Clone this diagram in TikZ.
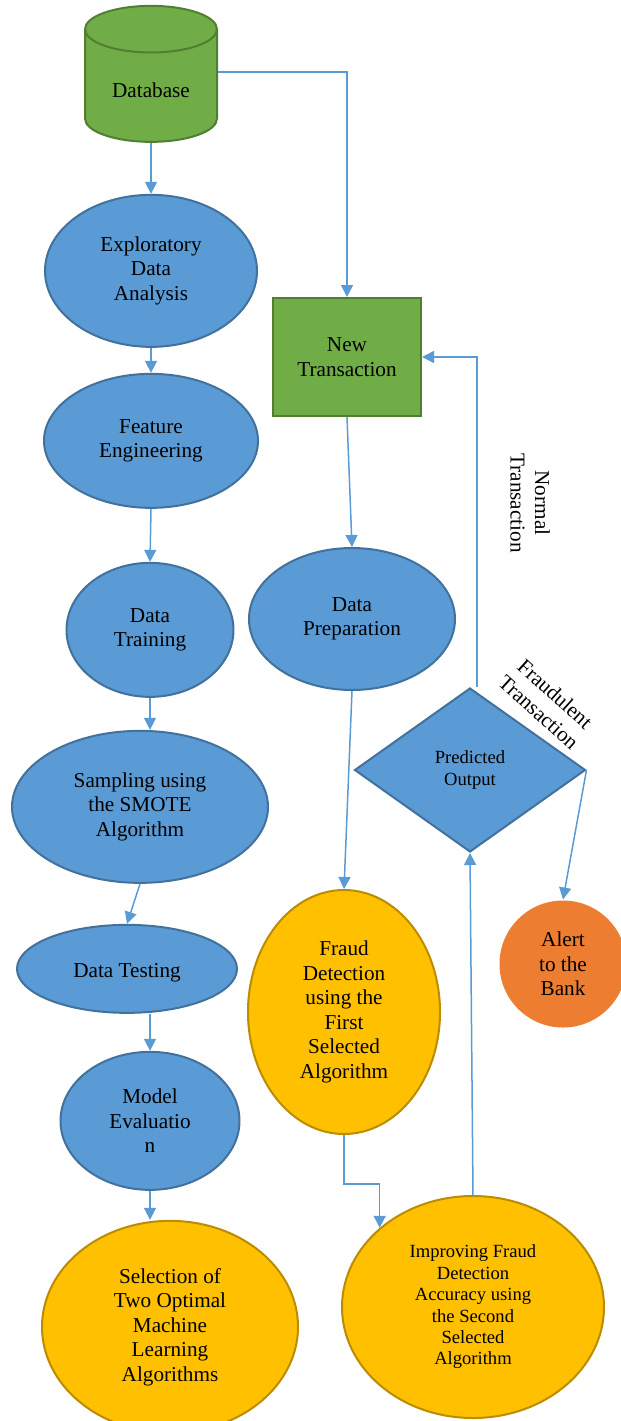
\documentclass[tikz,border=0pt]{standalone}
\usepackage{fontspec}
\setmainfont{Liberation Serif}
\usetikzlibrary{positioning,arrows.meta,calc,shapes.geometric}
\definecolor{stepblue}{HTML}{5B9BD5}
\definecolor{stepblueline}{HTML}{41719C}
\definecolor{datagreen}{HTML}{70AD47}
\definecolor{datagreenline}{HTML}{507E32}
\definecolor{algogold}{HTML}{FFC000}
\definecolor{algogoldline}{HTML}{BC8C00}
\definecolor{alertorange}{HTML}{ED7D31}
\tikzset{
  basenode/.style={
    inner sep=0pt, align=center, line width=1pt, text=black,
    font=\fontsize{10.6}{12.25}\selectfont,
    execute at begin node={\rule{0pt}{11.2pt}}
  },
  stepnode/.style={basenode, ellipse, draw=stepblueline, fill=stepblue},
  algonode/.style={basenode, ellipse, draw=algogoldline, fill=algogold},
  datanode/.style={basenode, draw=datagreenline, fill=datagreen},
  decnode/.style={basenode, diamond, draw=stepblueline, fill=stepblue},
  alertnode/.style={basenode, circle, fill=alertorange},
  smalltext/.style={
    font=\fontsize{9.3}{10.7}\selectfont,
    execute at begin node={\rule{0pt}{9.6pt}}
  },
  arr/.style={
    -{Triangle[length=6pt,width=6pt]}, line width=0.75pt, stepblue
  },
  sidelabel/.style={
    align=center, inner sep=0pt, font=\fontsize{10.6}{12.25}\selectfont
  }
}

\begin{document}
\begin{tikzpicture}[x=0.5pt, y=-0.5pt]
\useasboundingbox (0,0) rectangle (621,1421);

% left column
\node[datanode, cylinder, shape border rotate=90, aspect=0.6,
  execute at begin node={},
  minimum width=66pt, minimum height=68pt] (db) at (151,86) {Database};
\node[stepnode, minimum width=106pt, minimum height=76pt, below=25.5pt of db] (eda) {Exploratory\\Data\\Analysis};
\node[stepnode, minimum width=107pt, minimum height=67pt, below=12.5pt of eda] (feng) {Feature\\Engineering};
\node[stepnode, minimum width=83.5pt, minimum height=67pt, below=26.5pt of feng, xshift=-0.5pt] (dtrain) {Data\\Training};
\node[stepnode, minimum width=128pt, minimum height=76pt, below=16pt of dtrain, xshift=-5pt] (smote) {Sampling using\\the SMOTE\\Algorithm};
\node[stepnode, minimum width=110pt, minimum height=44pt, below=20pt of smote, xshift=-6.5pt] (dtest) {Data Testing};
\node[stepnode, minimum width=89.5pt, minimum height=69pt, below=18.5pt of dtest, xshift=11.5pt] (meval) {Model\\Evaluatio\\n};
\node[algonode, minimum width=128pt, minimum height=106pt, below=14.5pt of meval, xshift=10pt] (select) {Selection of\\Two Optimal\\Machine\\Learning\\Algorithms};

% right column
\node[datanode, minimum width=74pt, minimum height=59pt] (newtx) at (347,357) {New\\Transaction};
\node[stepnode, minimum width=103pt, minimum height=71pt, below=65pt of newtx, xshift=2.5pt] (dprep) {Data\\Preparation};
\node[algonode, minimum width=96pt, minimum height=122pt, below=99pt of dprep, xshift=-4pt] (fraud1) {Fraud\\Detection\\using the\\First\\Selected\\Algorithm};
\node[algonode, smalltext, minimum width=131pt, minimum height=111pt, below=30pt of fraud1, xshift=64.5pt] (improve) {Improving Fraud\\Detection\\Accuracy using\\the Second\\Selected\\Algorithm};
\node[decnode, smalltext, minimum width=115.5pt, minimum height=82pt] (pred) at (470,770) {Predicted\\Output};
\node[alertnode, minimum size=63.5pt] (alert) at (563,964) {Alert\\to the\\Bank};
\node[sidelabel, rotate=-90] (normlbl) at (530,503) {Normal\\Transaction};
\node[sidelabel, rotate=-42] (fraudlbl) at (547,703) {Fraudulent\\Transaction};

% connectors
\draw[arr] (db.south) -- (eda.north);
\draw[arr] ([yshift=1pt]db.shape center -| db.east) -| (newtx.north);
\draw[arr] (eda.south) -- (feng.north);
\draw[arr] (feng.south) -- (dtrain.north);
\draw[arr] (dtrain.south) -- (dtrain.south |- smote.north);
\draw[arr] (smote.south) -- (dtest.north);
\draw[arr] (meval.north |- dtest.south) -- (meval.north);
\draw[arr] (meval.south) -- (meval.south |- select.north);
\draw[arr] (newtx.south) -- (dprep.north);
\draw[arr] (dprep.south) -- (fraud1.north);
\draw[arr] (fraud1.south) -- ++(0,49) -| (improve.north west);
\draw[arr] (improve.north) -- (pred.south);
\draw[arr] ([xshift=3.5pt]pred.north) |- (newtx.east);
\draw[arr] (pred.east) -- (alert.north);
\end{tikzpicture}
\end{document}
